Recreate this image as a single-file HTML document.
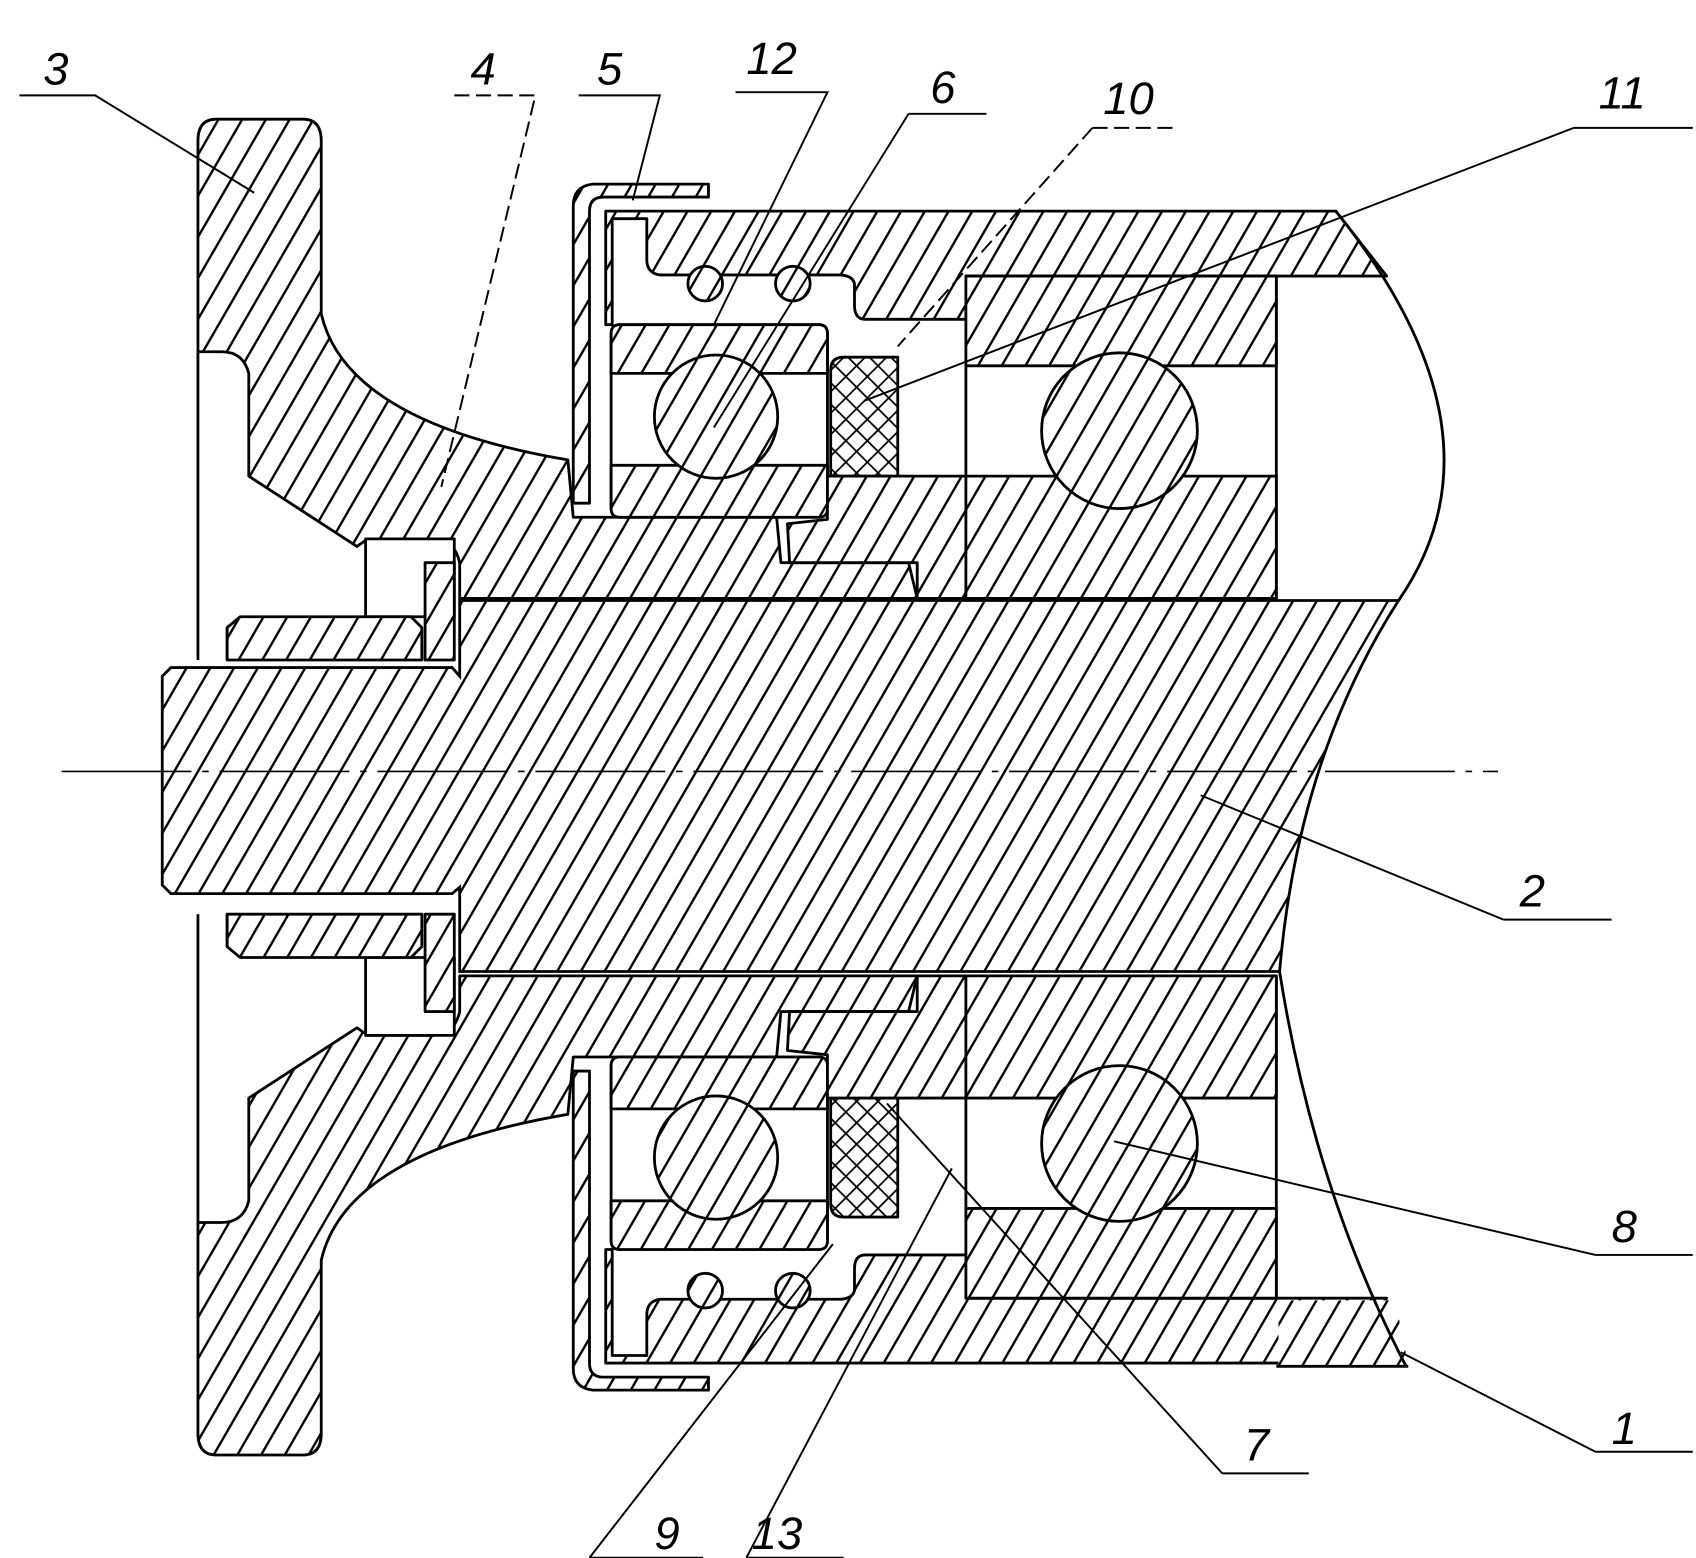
<!DOCTYPE html>
<html><head><meta charset="utf-8"><style>
html,body{margin:0;padding:0;background:#fff}
svg{display:block}
text{font-family:"Liberation Sans",sans-serif;font-style:italic;font-size:42px;fill:#000}
</style></head><body>
<svg width="1696" height="1558" viewBox="0 0 1568 1440" xmlns="http://www.w3.org/2000/svg">
<defs>
<pattern id="h" width="19" height="19" patternUnits="userSpaceOnUse" patternTransform="rotate(30)">
<rect width="19" height="19" fill="#fff"/><line x1="2" y1="0" x2="2" y2="19" stroke="#000" stroke-width="2.2"/></pattern>
<pattern id="hm" width="19" height="19" patternUnits="userSpaceOnUse" patternTransform="rotate(-30)">
<rect width="19" height="19" fill="#fff"/><line x1="2" y1="0" x2="2" y2="19" stroke="#000" stroke-width="2.2"/></pattern>
<pattern id="x" width="14" height="14" patternUnits="userSpaceOnUse" patternTransform="rotate(45)">
<rect width="14" height="14" fill="#fff"/><line x1="1" y1="0" x2="1" y2="14" stroke="#000" stroke-width="1.6"/><line x1="0" y1="1" x2="14" y2="1" stroke="#000" stroke-width="1.6"/></pattern>
<g id="half" stroke="#000" stroke-width="2.6" stroke-linejoin="round">
  <path d="M200,110 L280,110 Q297,110 297,130 L297,290 Q320,390 525,425 L530,478 L718,478 L722,520 L840,520 L848,553 L425,553 L425,520 Q420,498 400,498 L340,498 L330,505 L230,440 L230,345 Q225,325 205,325 L183,325 L183,130 Q183,110 200,110 Z"/>
  <rect x="338" y="498" width="82" height="72" fill="#fff"/>
  <path d="M210,610 L210,580 L222,570 L380,570 L390,580 L390,610 Z"/>
  <rect x="393" y="520" width="27" height="90"/>
  <line x1="183" y1="325" x2="183" y2="610" fill="none"/>
  <line x1="210" y1="580" x2="210" y2="610" fill="none"/>
  <path d="M560,195 L1235,195 L1282,255 L893,255 L893,295 L800,295 Q790,295 790,282 L790,262 Q788,254 775,254 L610,254 Q598,252 598,240 L598,202 L566,202 L566,300 L560,300 Z"/>
  <path d="M655,170 L548,170 Q530,172 530,190 L530,465 L545,465 L545,195 Q545,182 558,182 L655,182 Z"/>
  <rect x="565" y="300" width="200" height="178" rx="8" fill="#fff"/>
  <path d="M565,345 L565,308 Q565,300 573,300 L757,300 Q765,300 765,308 L765,345 Z"/>
  <path d="M565,430 L765,430 L765,470 Q765,478 757,478 L573,478 Q565,478 565,470 Z"/>
  <circle cx="662" cy="385" r="57"/>
  <circle cx="652" cy="262" r="16"/><circle cx="733" cy="262" r="16"/>
  <path d="M780,330 L830,330 L830,440 L768,440 L768,342 Q768,330 780,330 Z" fill="url(#x)"/>
  <path d="M765,440 L893,440 L893,553 L848,553 L848,520 L730,520 L728,484 L765,480 Z"/>
  <rect x="893" y="255" width="287" height="298" fill="#fff"/>
  <rect x="893" y="255" width="287" height="83"/>
  <rect x="893" y="440" width="287" height="113"/>
  <circle cx="1035" cy="398" r="72"/>
</g>
</defs>
<rect width="1568" height="1440" fill="#fff"/>
<path d="M150,625 L158,617 L418,617 L425,625 L425,555 L1293,555 Q1200,700 1183,898 L425,898 L425,820 L418,826 L158,826 L150,818 Z" fill="url(#h)" stroke="#000" stroke-width="2.6"/>
<use href="#half" fill="url(#h)"/>
<g transform="matrix(1,0,0,-1,0,1455)"><use href="#half" fill="url(#hm)"/></g>
<polygon points="1182,1202 1290,1202 1302,1263 1182,1263" fill="url(#h)"/>
<line x1="1180" y1="1263" x2="1302" y2="1263" stroke="#000" stroke-width="2.6"/>
<path d="M1235,195 Q1400,400 1293,555" fill="none" stroke="#000" stroke-width="2.6"/>
<path d="M1183,898 Q1215,1100 1300,1263" fill="none" stroke="#000" stroke-width="2.6"/>
<line x1="57" y1="713" x2="1385" y2="713" stroke="#000" stroke-width="1.6" stroke-dasharray="120,10,6,10"/>
<g stroke="#000" stroke-width="1.8" fill="none">
<path d="M18,88 L88,88 L235,178"/>
<path d="M420,88 L495,88 L408,450" stroke-dasharray="14,6"/>
<path d="M535,88 L610,88 L585,185"/>
<path d="M680,85 L765,85 L660,300"/>
<path d="M840,105 L912,105 M840,105 L660,395"/>
<path d="M1010,118 L1085,118 M1010,118 L830,320" stroke-dasharray="14,6"/>
<path d="M1455,118 L1565,118 M1455,118 L800,370"/>
<path d="M1390,850 L1490,850 M1390,850 L1110,735"/>
<path d="M1475,1160 L1565,1160 M1475,1160 L1030,1055"/>
<path d="M1475,1342 L1565,1342 M1475,1342 L1295,1250"/>
<path d="M1130,1362 L1210,1362 M1130,1362 L820,1020"/>
<path d="M545,1440 L650,1440 M545,1440 L770,1150"/>
<path d="M690,1440 L780,1440 M690,1440 L880,1080"/>
</g>
<text x="40" y="78">3</text>
<text x="435" y="78">4</text>
<text x="552" y="78">5</text>
<text x="690" y="68">12</text>
<text x="860" y="95">6</text>
<text x="1020" y="105">10</text>
<text x="1478" y="100">11</text>
<text x="1405" y="838">2</text>
<text x="1490" y="1148">8</text>
<text x="1490" y="1335">1</text>
<text x="1150" y="1350">7</text>
<text x="605" y="1432">9</text>
<text x="695" y="1432">13</text>
</svg>
</body></html>
